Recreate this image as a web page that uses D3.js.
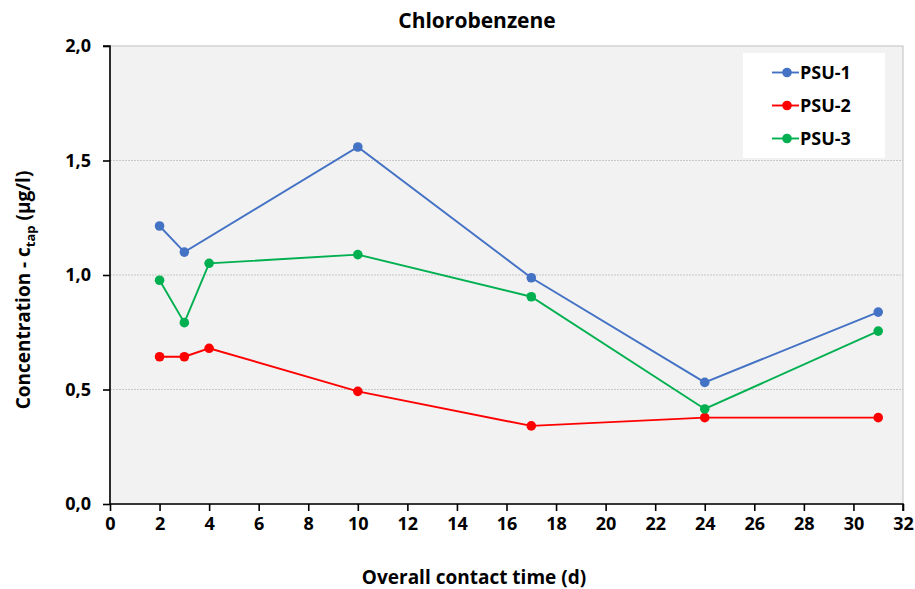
<!DOCTYPE html>
<html>
<head>
<meta charset="utf-8">
<script src="https://cdn.jsdelivr.net/npm/d3@7"></script>
<style>
  html, body { margin: 0; padding: 0; background: #ffffff; }
  svg { display: block; font-family: "Open Sans", Lato, sans-serif; }
</style>
</head>
<body>
<svg id="chart" width="915" height="589"></svg>
<script>
// Contact time (days) and measured concentrations per sampling unit
const days = [2, 3, 4, 10, 17, 24, 31];
const psu1Days = [2, 3, 10, 17, 24, 31];
const psu1 = [1.214, 1.100, 1.559, 0.988, 0.531, 0.838];
const psu2 = [0.643, 0.643, 0.680, 0.492, 0.341, 0.377, 0.377];
const psu3 = [0.977, 0.792, 1.051, 1.089, 0.905, 0.415, 0.755];
const seriesNames = ["PSU-1", "PSU-2", "PSU-3"];
const seriesColors = ["#4472C4", "#FF0000", "#00B050"];
const xTicks = d3.range(0, 33, 2);
const yTicks = [0, 0.5, 1.0, 1.5, 2.0];

(function draw() {
  const series = [
    { name: seriesNames[0], color: seriesColors[0], pts: psu1Days.map((d, i) => [d, psu1[i]]) },
    { name: seriesNames[1], color: seriesColors[1], pts: days.map((d, i) => [d, psu2[i]]) },
    { name: seriesNames[2], color: seriesColors[2], pts: days.map((d, i) => [d, psu3[i]]) }
  ];

  const svg = d3.select("#chart");
  const pL = 110, pR = 903, pT = 46, pB = 504;
  const font = "'Open Sans', Lato, sans-serif";

  const x = d3.scaleLinear().domain([0, 32]).range([pL, pR]);
  const y = d3.scaleLinear().domain([0, 2]).range([pB, pT]);
  const fmt = v => d3.format(".1f")(v).replace(".", ",");

  // Plot area
  svg.append("rect")
    .attr("x", pL).attr("y", pT)
    .attr("width", pR - pL).attr("height", pB - pT)
    .attr("fill", "#f2f2f2")
    .attr("stroke", "#bfbfbf").attr("stroke-width", 1);

  // Horizontal gridlines
  svg.append("g").selectAll("line")
    .data(yTicks.filter(v => v > 0 && v < 2))
    .join("line")
    .attr("x1", pL).attr("x2", pR)
    .attr("y1", d => y(d)).attr("y2", d => y(d))
    .attr("stroke", "#c8c8c8").attr("stroke-width", 1)
    .attr("stroke-dasharray", "2,1");

  // Axes
  const xAxis = svg.append("g")
    .attr("transform", `translate(0,${pB})`)
    .call(d3.axisBottom(x).tickValues(xTicks).tickSize(7).tickPadding(6).tickFormat(d3.format("d")));
  const yAxis = svg.append("g")
    .attr("transform", `translate(${pL},0)`)
    .call(d3.axisLeft(y).tickValues(yTicks).tickSize(7).tickPadding(12).tickFormat(fmt));

  [xAxis, yAxis].forEach(g => {
    g.select(".domain").attr("stroke", "#000").attr("stroke-width", 1.6);
    g.selectAll(".tick line").attr("stroke", "#000").attr("stroke-width", 1.6);
    g.selectAll(".tick text")
      .attr("fill", "#000")
      .style("font-size", "18px")
      .style("font-weight", "bold")
      .style("font-family", font);
  });
  yAxis.select(".domain").attr("d", `M-7,${pT}H0V${pB}`);
  xAxis.select(".domain").attr("d", `M${pL},0H${pR}V7`);

  // Lines and markers
  const line = d3.line().x(d => x(d[0])).y(d => y(d[1]));
  series.forEach(s => {
    svg.append("path")
      .datum(s.pts)
      .attr("d", line)
      .attr("fill", "none")
      .attr("stroke", s.color)
      .attr("stroke-width", 1.9);
    svg.append("g").selectAll("circle")
      .data(s.pts)
      .join("circle")
      .attr("cx", d => x(d[0])).attr("cy", d => y(d[1]))
      .attr("r", 4.8)
      .attr("fill", s.color);
  });

  // Legend
  const legend = svg.append("g");
  legend.append("rect")
    .attr("x", 743).attr("y", 53).attr("width", 142).attr("height", 105)
    .attr("fill", "#ffffff");
  series.forEach((s, i) => {
    const ly = 72.5 + i * 33;
    legend.append("line")
      .attr("x1", 772).attr("x2", 799).attr("y1", ly).attr("y2", ly)
      .attr("stroke", s.color).attr("stroke-width", 1.9);
    legend.append("circle")
      .attr("cx", 787).attr("cy", ly).attr("r", 4.8).attr("fill", s.color);
    legend.append("text")
      .attr("x", 800).attr("y", ly).attr("dy", "0.36em")
      .style("font-size", "18px").style("font-weight", "bold")
      .attr("fill", "#000")
      .text(s.name);
  });

  // Title
  svg.append("text")
    .attr("x", 477).attr("y", 28)
    .attr("text-anchor", "middle")
    .style("font-size", "21px").style("font-weight", "bold")
    .text("Chlorobenzene");

  // X axis label
  svg.append("text")
    .attr("x", 474).attr("y", 584)
    .attr("text-anchor", "middle")
    .style("font-size", "19px").style("font-weight", "bold")
    .text("Overall contact time (d)");

  // Y axis label with subscript
  const yl = svg.append("text")
    .attr("transform", `translate(30,290) rotate(-90)`)
    .attr("text-anchor", "middle")
    .style("font-size", "19px").style("font-weight", "bold");
  yl.append("tspan").text("Concentration - c");
  yl.append("tspan").attr("dy", 5).style("font-size", "13px").text("tap");
  yl.append("tspan").attr("dy", -5).text(" (µg/l)");
})();
</script>
</body>
</html>
